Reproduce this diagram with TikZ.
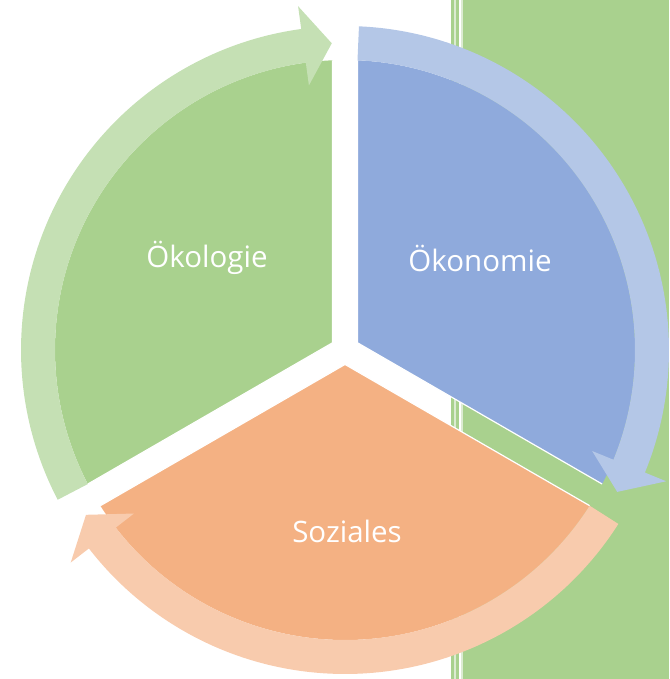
\documentclass[tikz,border=0pt]{standalone}
\usepackage{fontspec}
\setmainfont{Open Sans}
\usetikzlibrary{calc}
\definecolor{gpie}{HTML}{A9D18E}
\definecolor{garr}{HTML}{C5E0B4}
\definecolor{bpie}{HTML}{8FAADC}
\definecolor{barr}{HTML}{B4C7E7}
\definecolor{opie}{HTML}{F4B183}
\definecolor{oarr}{HTML}{F8CBAD}
\definecolor{rectg}{HTML}{A9D18E}
\definecolor{stripepale}{HTML}{DCEBD2}
\newcommand\cycarrow[4]{%
  \fill[#4] ($(C)+(#1:324pt)$) arc[start angle=#1, end angle=#2, radius=324pt]
    -- ($(C)+(#2:347pt)$) -- ($(C)+(#3:307pt)$) -- ($(C)+(#2:267pt)$)
    -- ($(C)+(#2:290pt)$) arc[start angle=#2, end angle=#1, radius=290pt] -- cycle;}
\newcommand\cycwedge[5]{%
  \coordinate (#5a) at ($(C)+(#1:14.43pt)$);
  \coordinate (#5p) at ($(C)+(#2:290pt)$);
  \coordinate (#5q) at ($(C)+(#3:290pt)$);
  \fill[#4] (#5a) -- (#5p) arc[start angle=#2, end angle=#3, radius=290pt] -- cycle;
  \draw[white, line width=1.2pt, line join=round] (#5p) -- (#5a) -- (#5q);}
\tikzset{lbl/.style={text=white, font=\fontsize{29.5}{34}\selectfont, inner sep=0pt}}
\begin{document}
\begin{tikzpicture}
\useasboundingbox (0pt,0pt) rectangle (669pt,-679pt);
% background green panel with stripes
\fill[rectg] (466pt,0pt) rectangle (669pt,-679pt);
\fill[rectg] (451pt,0pt) rectangle (454pt,-679pt);
\fill[stripepale] (454pt,0pt) rectangle (456pt,-679pt);
\fill[rectg] (456pt,0pt) rectangle (459pt,-679pt);
\fill[stripepale] (461pt,0pt) rectangle (463pt,-679pt);
\fill[rectg] (463pt,0pt) rectangle (466pt,-679pt);
\coordinate (C) at (345pt,-350pt);
% wedges
\cycwedge{150}{92.47}{207.53}{gpie}{g}
\cycwedge{30}{-27.53}{87.53}{bpie}{b}
\cycwedge{270}{212.47}{327.53}{opie}{o}
% arrows
\cycarrow{207.53}{97.77}{92.47}{garr}
\cycarrow{87.53}{-22.23}{-27.53}{barr}
\cycarrow{-32.47}{-142.23}{-147.53}{oarr}
% labels
\node[lbl] (oek) at (207pt,-258pt) {Ökologie};
\node[lbl] (eco) at (480pt,-258pt) {Ökonomie};
\node[lbl] (soz) at (347pt,-531pt) {Soziales};
\end{tikzpicture}
\end{document}
